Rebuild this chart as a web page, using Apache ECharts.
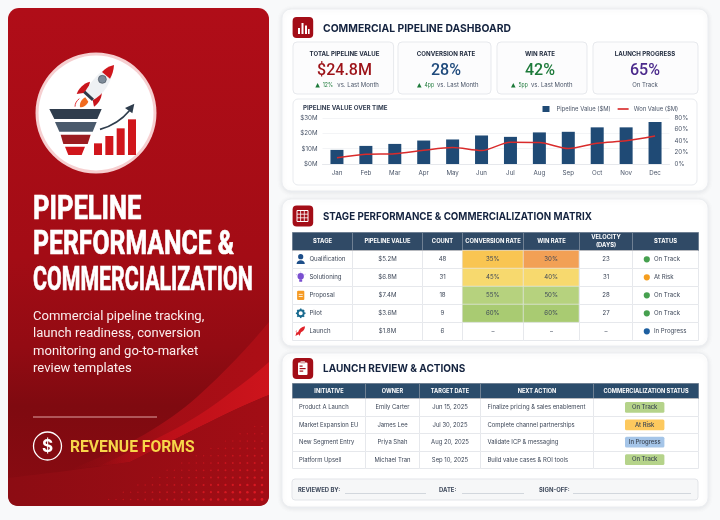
<!DOCTYPE html>
<html>
<head>
<meta charset="utf-8">
<style>html,body{margin:0;padding:0;background:#fff}#chart-container{width:720px;height:520px}</style>
<script src="https://cdn.jsdelivr.net/npm/echarts@6/dist/echarts.min.js"></script>
</head>
<body>
<div id="chart-container"></div>
<script>
// ---- chart data
const months = ["Jan","Feb","Mar","Apr","May","Jun","Jul","Aug","Sep","Oct","Nov","Dec"];
const pipelineValues = [9.2,11.8,13.1,15.3,16,18.6,17.7,20.6,21,23.9,23.9,27.4];
const wonValues = [11,17,18,24,28.6,23.4,38,37.4,26.9,36.2,40.3,48.5];

const kpiTitles = ["TOTAL PIPELINE VALUE","CONVERSION RATE","WIN RATE","LAUNCH PROGRESS"];
const kpiValues = ["$24.8M","28%","42%","65%"];
const kpiDeltas = ["12%","4pp","5pp",""];
const kpiNotes = ["vs. Last Month","vs. Last Month","vs. Last Month","On Track"];

const stageHeaders = ["STAGE","PIPELINE VALUE","COUNT","CONVERSION RATE","WIN RATE","VELOCITY\n(DAYS)","STATUS"];
const stageNames = ["Qualification","Solutioning","Proposal","Pilot","Launch"];
const stagePipeline = ["$5.2M","$6.8M","$7.4M","$3.6M","$1.8M"];
const stageCounts = ["48","31","18","9","6"];
const stageConversion = [35,45,55,60,null];
const stageWin = [30,40,50,60,null];
const stageVelocity = ["23","31","28","27","–"];
const stageStatus = ["On Track","At Risk","On Track","On Track","In Progress"];

const actionHeaders = ["INITIATIVE","OWNER","TARGET DATE","NEXT ACTION","COMMERCIALIZATION STATUS"];
const initiatives = ["Product A Launch","Market Expansion EU","New Segment Entry","Platform Upsell"];
const owners = ["Emily Carter","James Lee","Priya Shah","Michael Tran"];
const targetDates = ["Jun 15, 2025","Jul 30, 2025","Aug 20, 2025","Sep 10, 2025"];
const nextActions = ["Finalize pricing & sales enablement","Complete channel partnerships","Validate ICP & messaging","Build value cases & ROI tools"];
const actionStatus = ["On Track","At Risk","In Progress","On Track"];

const descriptionLines = ["Commercial pipeline tracking,","launch readiness, conversion","monitoring and go-to-market","review templates"];
const titleLines = ["PIPELINE","PERFORMANCE &","COMMERCIALIZATION"];

// ---- layout
const FONT = "Inter";
const stageCols = [60.7,69.6,40,61,55.7,53.3,66];
const stageX = 292, stageY = 232, stageHead = 18.3, stageRow = 18;
const actionCols = [73.3,54.3,60.4,113.6,105];
const actionX = 292, actionY = 383.3, actionHead = 15.4, actionRow = 17.4;
const statusColor = {"On Track":"#46a04f","At Risk":"#f59e1f","In Progress":"#1e5fa0"};
const pillColor = {"On Track":"#b5d38a","At Risk":"#fdc95e","In Progress":"#a5c5e8"};
const titleScale = [0.786, 0.763, 0.657];

var dom = document.getElementById("chart-container");
var myChart = echarts.init(dom, null, { renderer: "canvas" });

// the graphic component has no plain svg path type, so register one per outline
let pathCount = 0;
function pathType(d) {
  const name = "outline" + pathCount++;
  echarts.graphic.registerShape(name, echarts.graphic.extendPath(d, {}));
  return name;
}

const backLayer = [];   // goes under the chart and the matrices
const frontLayer = [];  // goes over the matrices
let layer = backLayer;

function txt(x, y, text, size, weight, fill, align, family, scaleX, stroke) {
  layer.push({
    type: "text", x: x, y: y, scaleX: scaleX || 1,
    style: { x: 0, y: 0, text: text, font: weight + " " + size + "px " + (family || FONT), fill: fill, align: align || "left", verticalAlign: "middle", stroke: stroke ? fill : null, lineWidth: stroke || 0 }
  });
}
function card(x, y, w, h, r, fill, stroke, shadow) {
  layer.push({
    type: "rect",
    shape: { x: x, y: y, width: w, height: h, r: r },
    style: { fill: fill, stroke: stroke, lineWidth: 1, shadowBlur: shadow || 0, shadowColor: "rgba(40,50,70,0.10)", shadowOffsetY: shadow ? 1 : 0 }
  });
}
function path(d, fill, extra) {
  layer.push({ type: pathType(d), style: Object.assign({ fill: fill }, extra || {}) });
}
function poly(points, fill) {
  layer.push({ type: "polygon", shape: { points: points }, style: { fill: fill } });
}
function box(x, y, w, h, r, fill) {
  layer.push({ type: "rect", shape: { x: x, y: y, width: w, height: h, r: r || 0 }, style: { fill: fill } });
}
function dot(x, y, r, fill) {
  layer.push({ type: "circle", shape: { cx: x, cy: y, r: r }, style: { fill: fill } });
}
function seg(x1, y1, x2, y2, stroke, w) {
  layer.push({ type: "line", shape: { x1: x1, y1: y1, x2: x2, y2: y2 }, style: { stroke: stroke, lineWidth: w } });
}

// ---- left panel
layer.push({
  type: "rect",
  shape: { x: 8, y: 8, width: 261, height: 498, r: 11 },
  style: {
    fill: new echarts.graphic.LinearGradient(0, 0, 0, 1, [
      { offset: 0, color: "#b00d18" }, { offset: 0.5, color: "#a30c15" }, { offset: 0.68, color: "#930b13" },
      { offset: 0.8, color: "#7f0a10" }, { offset: 1, color: "#8a0b12" }
    ])
  }
});
// swooshes, kept inside the rounded panel outline
path("M70 470 C130 445 165 425 197 397 C225 372 250 345 269 322 L269 395 C235 408 190 432 130 462 Z",
  new echarts.graphic.LinearGradient(0, 0, 1, 0, [
    { offset: 0, color: "rgba(168,14,22,0)" }, { offset: 0.5, color: "rgba(168,14,22,0.9)" }, { offset: 1, color: "rgba(172,14,22,1)" }
  ]));
path("M95 468 C150 442 190 425 230 393 C245 382 258 372 269 362 L269 395 C235 408 190 432 130 462 Z",
  new echarts.graphic.LinearGradient(0, 0, 1, 0, [
    { offset: 0, color: "rgba(192,16,25,0)" }, { offset: 0.45, color: "rgba(192,16,25,0.9)" }, { offset: 1, color: "rgba(205,20,28,1)" }
  ]));
path("M8 478 C60 472 90 468 130 462 C190 432 235 408 269 395 L269 495 Q269 506 258 506 L19 506 Q8 506 8 495 Z",
  new echarts.graphic.LinearGradient(0, 0, 1, 0, [
    { offset: 0, color: "#8c0c13" }, { offset: 1, color: "#a20d15" }
  ]));
// halftone dots in the bottom right corner
for (let row = 0; row < 12; row++) {
  for (let col = 0; col < 23; col++) {
    const dx = 262 - col * 7.3, dy = 499.5 - row * 7.3;
    const reach = (262 - dx) / 160 + (499.5 - dy) / 78;
    if (reach < 1) {
      layer.push({ type: "circle", silent: true, shape: { cx: dx, cy: dy, r: 1.4 * (1 - reach * 0.5) }, style: { fill: "#e81c26", opacity: 0.9 - reach * 0.5 } });
    }
  }
}

// logo badge
dot(96, 113, 60.5, "#f6cfd0");
dot(96, 113, 57.5, "#ffffff");
const logo = [];
function lp(d, fill, stroke, w) { logo.push({ type: pathType(d), style: { fill: fill || "none", stroke: stroke, lineWidth: w || 0 } }); }
// rocket
lp("M210 95 C190 100 176 115 170 132 L195 128 L205 118 Z", "#c9151c");
lp("M245 122 C247 142 238 158 222 170 L218 150 L228 135 Z", "#c9151c");
lp("M282 45 C245 55 215 90 192 130 L215 152 C252 135 277 95 282 45 Z", "#eef1f4");
lp("M282 45 C265 50 255 56 246 66 L270 86 C277 74 281 60 282 45 Z", "#d0161c");
lp("M196 122 L222 146 L216 153 L190 129 Z", "#2f3b4a");
logo.push({ type: "circle", shape: { cx: 247, cy: 88, r: 12 }, style: { fill: "#7d8b99", stroke: "#46505c", lineWidth: 2 } });
lp("M196 142 C185 148 178 158 180 172 C192 172 200 165 205 155 Z", "#f06a1f");
lp("M178 146 C170 152 165 160 165 170", "none", "#e2383c", 3);
// funnel
lp("M88 177 L245 177 L232 207 L103 207 Z", "#2f3d4d");
lp("M105 216 L230 216 L218 245 L118 245 Z", "#4a5a6c");
lp("M122 254 L212 254 L203 282 L130 282 Z", "#9b1c20");
lp("M135 290 L195 290 L185 315 L145 315 Z", "#d0161c");
// small bars and arrow
[[222, 280, 35], [256, 258, 57], [290, 235, 80], [324, 208, 107]].forEach((b) => {
  logo.push({ type: "rect", shape: { x: b[0], y: b[1], width: 24, height: b[2] }, style: { fill: "#d0161c" } });
});
lp("M240 238 C275 228 305 210 328 182", "none", "#2f3d4d", 5);
lp("M343 161 L337 190 L315 174 Z", "#2f3d4d");
layer.push({ type: "group", x: 20, y: 50, scaleX: 1 / 3, scaleY: 1 / 3, children: logo });

// left texts
titleLines.forEach((t, i) => txt(33, 211 + i * 35.3, t, 32.5, 700, "#ffffff", "left", "Roboto", titleScale[i], 0.7));
descriptionLines.forEach((t, i) => txt(33, 316.5 + i * 17.4, t, 13.05, 400, "#fbeeee", "left", "Roboto"));
seg(33, 417, 157, 417, "#e0a3a3", 1);
layer.push({ type: "circle", shape: { cx: 47.5, cy: 446, r: 14 }, style: { fill: "none", stroke: "#ffffff", lineWidth: 1.3 } });
txt(47.5, 446.5, "$", 17, 700, "#ffffff", "center");
txt(70, 447.5, "REVENUE FORMS", 17, 700, "#f7d64a", "left", "Roboto", 0.92);

// ---- right cards
card(282, 9, 426, 182, 9, "#ffffff", "#eceef1", 5);
card(282, 199, 426, 147, 9, "#ffffff", "#eceef1", 5);
card(282, 353, 426, 154, 9, "#ffffff", "#eceef1", 5);

function headerIcon(y) {
  box(292.6, y, 20.6, 21, 4, "#a30d17");
}
headerIcon(17);
box(298, 28, 2, 6, 0, "#fff"); box(301.5, 23, 2, 11, 0, "#fff"); box(305, 25.5, 2, 8.5, 0, "#fff"); box(308, 29, 1.6, 5, 0, "#fff");
txt(323, 28.5, "COMMERCIAL PIPELINE DASHBOARD", 11, 700, "#14233f", "left", FONT, 0.94);
headerIcon(205.5);
layer.push({ type: "rect", shape: { x: 297, y: 210.5, width: 11, height: 11 }, style: { fill: "none", stroke: "#fff", lineWidth: 1 } });
seg(300.6, 210.5, 300.6, 221.5, "#fff", 0.8); seg(304.3, 210.5, 304.3, 221.5, "#fff", 0.8);
seg(297, 214.2, 308, 214.2, "#fff", 0.8); seg(297, 217.8, 308, 217.8, "#fff", 0.8);
txt(323, 217, "STAGE PERFORMANCE & COMMERCIALIZATION MATRIX", 11, 700, "#14233f", "left", FONT, 0.885);
headerIcon(358);
box(298, 362.5, 9.5, 12.5, 1, "#fff"); box(300.5, 361, 4.5, 2.6, 0.5, "#d9a5a8");
box(299.6, 365.5, 3, 1.2, 0, "#a30d17"); box(299.6, 368, 6, 1.2, 0, "#a30d17"); box(299.6, 370.5, 3.6, 1.2, 0, "#a30d17");
txt(323, 368.5, "LAUNCH REVIEW & ACTIONS", 11, 700, "#14233f", "left", FONT, 0.913);

// kpi cards
const kpiX = [293, 398, 497, 593], kpiW = [100.6, 93, 90, 105];
const kpiColor = ["#9c1218", "#1f4a7c", "#1d7a3a", "#4b2a8c"];
const kpiCentre = [344.5, 446, 540, 645];
const kpiMarkX = [315.3, 417, 511, 0], kpiNoteX = [337.3, 437, 531, 0];
kpiTitles.forEach((t, i) => {
  const cx = kpiCentre[i];
  card(kpiX[i], 42, kpiW[i], 52, 4, "#fcfcfd", "#e7e9ed");
  txt(cx, 53.7, t, 6.1, 700, "#222c3f", "center");
  txt(cx, 71, kpiValues[i], 16, 500, kpiColor[i], "center", "Roboto");
  if (kpiDeltas[i]) {
    const left = kpiMarkX[i];
    poly([[left, 87.5], [left + 4.6, 87.5], [left + 2.3, 83]], "#1d7a3a");
    txt(left + 7.5, 85.3, kpiDeltas[i], 6, 400, "#1d7a3a", "left", FONT, 0.85);
    txt(kpiNoteX[i], 85.3, kpiNotes[i], 6, 400, "#4a5568");
  } else {
    txt(cx, 85.3, kpiNotes[i], 6, 400, "#4a5568", "center");
  }
});
card(293, 99, 404, 86, 5, "#ffffff", "#e9ebef");
txt(303, 108, "PIPELINE VALUE OVER TIME", 6.2, 700, "#333e52");

// sign-off strip
card(292, 479, 406, 21, 3, "#f6f7f8", "#e3e5e9");
txt(298, 490, "REVIEWED BY:", 5.9, 700, "#3f4a5c");
seg(345, 493.5, 426, 493.5, "#c9ced6", 0.8);
txt(439, 490, "DATE:", 5.9, 700, "#3f4a5c");
seg(462, 493.5, 524, 493.5, "#c9ced6", 0.8);
txt(539, 490, "SIGN-OFF:", 5.9, 700, "#3f4a5c");
seg(573, 493.5, 691, 493.5, "#c9ced6", 0.8);

// ---- things drawn over the matrix cells
layer = frontLayer;
const statusX = stageX + stageCols.slice(0, 6).reduce((a, b) => a + b, 0);
stageNames.forEach((n, i) => {
  const cy = stageY + stageHead + stageRow * (i + 0.5);
  dot(statusX + 14.5, cy, 3.1, statusColor[stageStatus[i]]);
  txt(statusX + 21.6, cy, stageStatus[i], 6.1, 400, "#3d4758");
  txt(stageX + 17.4, cy, n, 6.1, 400, "#3d4758");
});
const ix = 300.7;
let iy = stageY + stageHead + stageRow * 0.5;
dot(ix, iy - 2.6, 2.6, "#1d4e89");
path("M296.6 " + (iy + 4.6) + " C296.6 " + (iy - 0.4) + " 304.8 " + (iy - 0.4) + " 304.8 " + (iy + 4.6) + " Z", "#1d4e89");
iy += stageRow;
dot(ix, iy - 1, 3.2, "#7a4fd0"); box(ix - 1.5, iy + 2, 3, 2.4, 0.5, "#7a4fd0");
seg(ix - 4.8, iy - 3, ix - 3.8, iy - 2.4, "#a98be6", 0.7); seg(ix + 4.8, iy - 3, ix + 3.8, iy - 2.4, "#a98be6", 0.7); seg(ix, iy - 5.6, ix, iy - 4.7, "#a98be6", 0.7);
iy += stageRow;
box(ix - 3.6, iy - 4.6, 7.2, 9.2, 1, "#f59a23"); box(ix - 2, iy - 1.4, 4, 0.8, 0, "#fff"); box(ix - 2, iy + 0.8, 4, 0.8, 0, "#fff");
iy += stageRow;
layer.push({ type: "circle", shape: { cx: ix, cy: iy, r: 3 }, style: { fill: "none", stroke: "#1a6b8f", lineWidth: 1.9 } });
for (let a = 0; a < 8; a++) {
  const rad = a * Math.PI / 4;
  seg(ix + Math.cos(rad) * 3.4, iy + Math.sin(rad) * 3.4, ix + Math.cos(rad) * 4.8, iy + Math.sin(rad) * 4.8, "#1a6b8f", 1.5);
}
iy += stageRow;
path("M305 " + (iy - 5) + " C301.5 " + (iy - 4.5) + " 299 " + (iy - 2) + " 298 " + (iy + 1) + " L296 " + (iy + 1) + " L297 " + (iy - 1) + " L295.6 " + iy + " L296.4 " + (iy + 1.2) + " L295.4 " + (iy + 4.6) + " L298.6 " + (iy + 3) + " L299.4 " + (iy + 4.6) + " L301 " + (iy + 1) + " C303.5 " + iy + " 305 " + (iy - 2) + " 305 " + (iy - 5) + " Z", "#e0232a");

// action table pills
const pillCx = 644.7;
actionStatus.forEach((s, i) => {
  const cy = actionY + actionHead + actionRow * (i + 0.5);
  box(pillCx - 19.7, cy - 5.4, 39.4, 10.8, 1.5, pillColor[s]);
  txt(pillCx, cy, s, 5.9, 500, "#3a4452", "center");
});

// ---- matrix cells
const cellBorder = { borderColor: "#e6e8ec", borderWidth: 1 };
const stageLabel = { fontFamily: FONT, fontSize: 6.1, color: "#3d4758", overflow: "none" };
const actionLabel = { fontFamily: FONT, fontSize: 5.9, color: "#3d4758", overflow: "none" };
const stageHeadLabel = { color: "#ffffff", fontFamily: FONT, fontSize: 5.8, fontWeight: 700, overflow: "none", lineOverflow: "none", lineHeight: 7.5, padding: 0 };
const actionHeadLabel = { color: "#ffffff", fontFamily: FONT, fontSize: 5.6, fontWeight: 700, overflow: "none" };
const stageBody = [];
stagePipeline.forEach((v, r) => {
  stageBody.push({ coord: [1, r], value: v });
  stageBody.push({ coord: [2, r], value: stageCounts[r] });
  stageBody.push({ coord: [5, r], value: stageVelocity[r] });
  if (stageConversion[r] === null) {
    stageBody.push({ coord: [3, r], value: "–" });
    stageBody.push({ coord: [4, r], value: "–" });
  }
});
const actionBody = [];
initiatives.forEach((v, r) => {
  actionBody.push({ coord: [0, r], value: v, label: { position: "insideLeft", align: "left", padding: [0, 0, 0, 6.5], overflow: "none" } });
  actionBody.push({ coord: [1, r], value: owners[r] });
  actionBody.push({ coord: [2, r], value: targetDates[r] });
  actionBody.push({ coord: [3, r], value: nextActions[r], label: { position: "insideLeft", align: "left", padding: [0, 0, 0, 7], overflow: "none" } });
});

const heatData = [];
stageNames.forEach((n, r) => {
  if (stageConversion[r] !== null) {
    heatData.push([stageHeaders[3], n, stageConversion[r]]);
    heatData.push([stageHeaders[4], n, stageWin[r]]);
  }
});

var option = {
  backgroundColor: "#f8f9fa",
  animation: false,
  textStyle: { fontFamily: FONT },
  graphic: { z: 0, elements: backLayer },
  matrix: [
    {
      z: 1,
      left: stageX, top: stageY,
      width: stageCols.reduce((a, b) => a + b, 0), height: stageHead + stageRow * stageNames.length,
      x: {
        levelSize: stageHead,
        data: stageHeaders.map((h, i) => ({ value: h, size: stageCols[i] })),
        itemStyle: { color: "#304a66", borderColor: "#6f8093", borderWidth: 1 },
        label: stageHeadLabel
      },
      y: { show: false, data: stageNames.map((n) => ({ value: n, size: stageRow })) },
      body: { data: stageBody, itemStyle: Object.assign({ color: "#fff" }, cellBorder), label: stageLabel },
      backgroundStyle: { color: "#fff", borderWidth: 0 }
    },
    {
      z: 1,
      left: actionX, top: actionY,
      width: actionCols.reduce((a, b) => a + b, 0), height: actionHead + actionRow * initiatives.length,
      x: {
        levelSize: actionHead,
        data: actionHeaders.map((h, i) => ({ value: h, size: actionCols[i] })),
        itemStyle: { color: "#2b4c6b", borderColor: "#6f8093", borderWidth: 1 },
        label: actionHeadLabel
      },
      y: { show: false, data: initiatives.map((n) => ({ value: n, size: actionRow })) },
      body: { data: actionBody, itemStyle: Object.assign({ color: "#fff" }, cellBorder), label: actionLabel },
      backgroundStyle: { color: "#fff", borderWidth: 0 }
    }
  ],
  visualMap: {
    show: false, type: "piecewise", seriesIndex: 2, dimension: 2,
    pieces: [
      { lte: 32, color: "#f2a055" }, { gt: 32, lte: 38, color: "#f9c552" },
      { gt: 38, lte: 48, color: "#f7d96e" }, { gt: 48, lte: 58, color: "#b6d27e" },
      { gt: 58, color: "#a9cb72" }
    ]
  },
  legend: {
    left: 537.5, top: 101, itemWidth: 11, itemHeight: 6, itemGap: 7,
    textStyle: { fontFamily: FONT, fontSize: 5.9, color: "#4a5568" },
    data: [
      { name: "Pipeline Value ($M)", icon: "path://M0 0H7V6H0Z" },
      { name: "Won Value ($M)", icon: "path://M0 0H20V3H0Z" }
    ]
  },
  grid: { left: 322.5, right: 50.5, top: 118, height: 46 },
  xAxis: {
    type: "category", data: months,
    axisLine: { lineStyle: { color: "#e6e8ec" } }, axisTick: { show: false },
    axisLabel: { fontFamily: FONT, fontSize: 6.2, color: "#4a5568", margin: 6 }
  },
  yAxis: [
    {
      type: "value", min: 0, max: 30, interval: 10,
      axisLabel: { fontFamily: FONT, fontSize: 6.2, color: "#4a5568", margin: 5, formatter: (v) => "$" + v + "M" },
      splitLine: { lineStyle: { color: "#f0f1f4", width: 0.8 } }
    },
    {
      type: "value", min: 0, max: 80, interval: 20,
      axisLabel: { fontFamily: FONT, fontSize: 6.2, color: "#4a5568", margin: 5, formatter: (v) => v + "%" },
      splitLine: { show: false }
    }
  ],
  series: [
    { name: "Pipeline Value ($M)", type: "bar", barWidth: 13, data: pipelineValues, itemStyle: { color: "#1f4a75" } },
    { name: "Won Value ($M)", type: "line", yAxisIndex: 1, smooth: 0.3, symbol: "none", data: wonValues, lineStyle: { color: "#d92b2b", width: 1.5 }, itemStyle: { color: "#d92b2b" }, z: 5 },
    {
      type: "heatmap", coordinateSystem: "matrix", matrixIndex: 0, data: heatData, z: 6,
      itemStyle: { borderColor: "#e6e8ec", borderWidth: 0.5 },
      label: { show: true, fontFamily: FONT, fontSize: 6.1, color: "#3d4758", formatter: (p) => p.value[2] + "%" }
    },
    {
      type: "custom", coordinateSystem: "none", z: 30, silent: true, data: [0],
      renderItem: () => ({ type: "group", children: frontLayer })
    }
  ]
};

if (option && typeof option === "object") {
  myChart.setOption(option);
}

window.addEventListener("resize", myChart.resize);
</script>
</body>
</html>
